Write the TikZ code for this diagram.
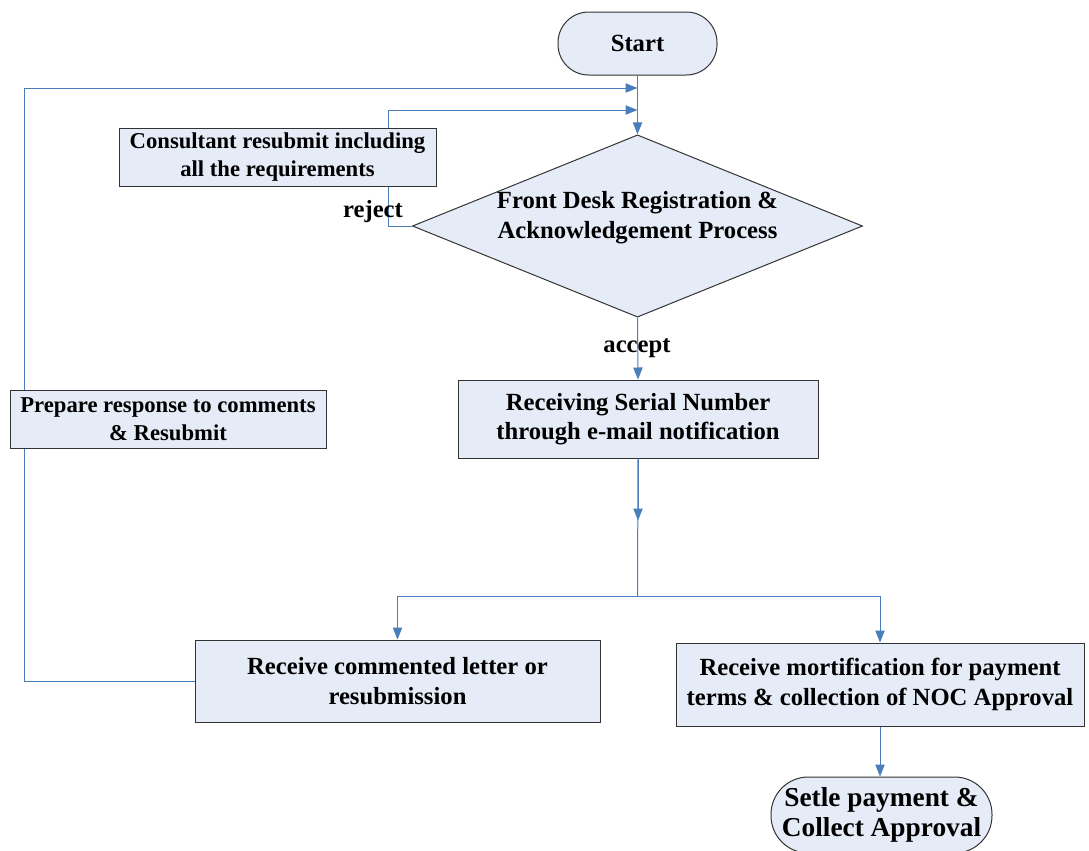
\documentclass[tikz,border=0pt]{standalone}
\usepackage{fontspec}
\setmainfont{Liberation Serif}
\usetikzlibrary{arrows.meta,shapes.geometric,backgrounds}
\definecolor{boxblue}{RGB}{230,236,247}
\definecolor{lineblue}{RGB}{74,126,187}

\begin{document}
\begin{tikzpicture}[x=0.75pt,y=0.75pt,yscale=-1,xscale=1,
  box/.style={draw=black!80,fill=boxblue,line width=0.75pt,align=center,inner sep=0pt,
    font=\bfseries\fontsize{18.5}{22}\selectfont},
  small/.style={font=\bfseries\fontsize{17}{21}\selectfont},
  term/.style={box,rounded corners=23pt},
  decision/.style={box,diamond,aspect=2.47},
  link/.style={draw=lineblue,line width=0.75pt},
  flow/.style={link,-{Triangle[length=9pt,width=7pt]}},
  lbl/.style={font=\bfseries\fontsize{18.5}{20}\selectfont,inner sep=0.75pt}]
\useasboundingbox (0,0) rectangle (1089,850);

% Nodes
\node[term,minimum width=119.25pt,minimum height=47.25pt] (start) at (637.5,43.5) {Start};
\node[decision,minimum width=336.75pt,minimum height=136.5pt] (desk) at (637.5,226)
  {Front Desk Registration \&\\Acknowledgement Process\\[-5.5pt]};
\node[box,small,minimum width=237.75pt,minimum height=43.5pt] (consult) at (277.5,157)
  {Consultant resubmit including\\all the requirements};
\node[box,small,minimum width=237pt,minimum height=43.5pt] (prepare) at (168,419)
  {Prepare response to comments\\\& Resubmit};
\node[box,minimum width=270pt,minimum height=58.5pt] (serial) at (638,419)
  {Receiving Serial Number\\through e-mail notification};
\node[box,minimum width=303.75pt,minimum height=61.5pt] (comment) at (397.5,681)
  {Receive commented letter or\\resubmission};
\node[box,minimum width=306pt,minimum height=62.25pt] (mortif) at (880,684.5)
  {Receive mortification for payment\\terms \& collection of NOC Approval};
\node[term,rounded corners=28pt,minimum width=165.75pt,minimum height=57pt,
  font=\bfseries\fontsize{20.5}{22.5}\selectfont] (settle) at (881.5,815)
  {Setle payment \&\\Collect Approval};

\coordinate (inA) at (637.5,88);
\coordinate (inB) at (637.5,110);
\coordinate (split) at (637.5,596);

% Connectors
\begin{scope}[on background layer]
\draw[flow] (start.south) -- (desk.north);
\draw[flow] (desk.west) -| (388,110) -- (inB);
\draw[flow] (comment.west) -| (24,88) -- (inA);
\end{scope}
\draw[flow] (desk.south) -- (serial.north);
\draw[flow] (serial.south) -- ++(0,62);
\draw[link] (serial.south) -- (split);
\draw[flow] (split) -| (comment.north);
\draw[flow] (split) -| (mortif.north);
\draw[flow] (mortif.south) -- (mortif.south |- settle.north);

% Labels
\node[lbl] (reject) at (373,212) {reject};
\node[lbl] (accept) at (637,348) {accept};

\end{tikzpicture}
\end{document}
